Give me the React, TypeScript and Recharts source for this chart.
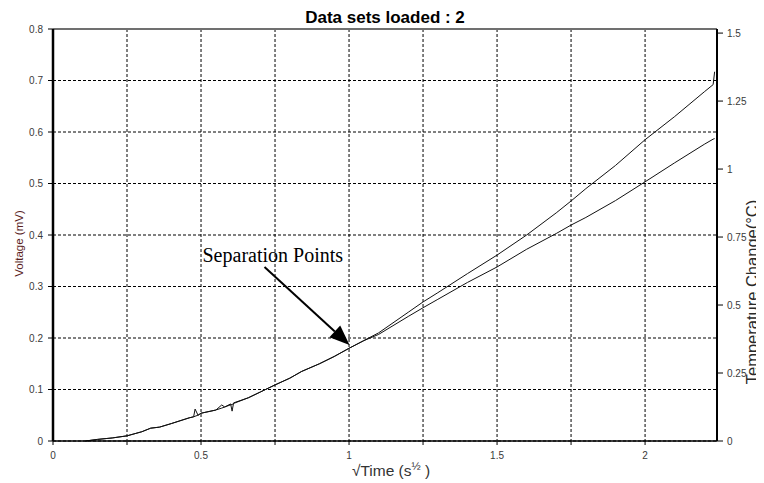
import React from 'react';
import { LineChart, Line, XAxis, YAxis, CartesianGrid, ReferenceLine } from 'recharts';

const timeValues = [0.11, 0.15, 0.2, 0.25, 0.3, 0.33, 0.36, 0.4, 0.46, 0.475, 0.48, 0.49, 0.5, 0.55, 0.57, 0.58, 0.6, 0.605, 0.61, 0.66, 0.7, 0.75, 0.8, 0.84, 0.9, 0.95, 1.0, 1.05, 1.1, 1.2, 1.25, 1.3, 1.4, 1.5, 1.6, 1.7, 1.75, 1.8, 1.9, 2.0, 2.1, 2.2, 2.23, 2.235];
const voltageValues = [0, 0.003, 0.006, 0.01, 0.018, 0.025, 0.027, 0.034, 0.045, 0.047, 0.062, 0.05, 0.054, 0.06, 0.07, 0.066, 0.072, 0.058, 0.074, 0.084, 0.095, 0.109, 0.122, 0.135, 0.15, 0.164, 0.18, 0.195, 0.21, 0.25, 0.27, 0.288, 0.325, 0.361, 0.4, 0.443, 0.466, 0.49, 0.535, 0.585, 0.63, 0.678, 0.692, 0.717];
const temperatureValues = [0, 0.006, 0.011, 0.019, 0.034, 0.047, 0.051, 0.064, 0.085, 0.089, 0.091, 0.095, 0.102, 0.114, 0.121, 0.125, 0.133, 0.134, 0.138, 0.159, 0.18, 0.206, 0.231, 0.256, 0.284, 0.311, 0.341, 0.369, 0.392, 0.458, 0.49, 0.521, 0.583, 0.64, 0.705, 0.763, 0.794, 0.822, 0.884, 0.953, 1.023, 1.091, 1.11, 1.112];

const xTicks = [0, 0.25, 0.5, 0.75, 1, 1.25, 1.5, 1.75, 2];
const leftTicks = [0, 0.1, 0.2, 0.3, 0.4, 0.5, 0.6, 0.7, 0.8];
const rightTicks = [0, 0.25, 0.5, 0.75, 1, 1.25, 1.5];

const titleText = 'Data sets loaded : 2';
const annotationText = 'Separation Points';
const arrowTail = { x: 0.7145, y: 0.338 };
const arrowTip = { x: 1.0017, y: 0.1864 };

const data = timeValues.map((t, i) => ({ t, voltage: voltageValues[i], temperature: temperatureValues[i] }));

const SANS = '"Liberation Sans", Arial, sans-serif';
const tickStyle = { fontSize: 10, fill: '#3a3a3a', fontFamily: SANS };

const ArrowShape = (props: any) => {
  const { x1, y1, x2, y2 } = props;
  if ([x1, y1, x2, y2].some((v) => typeof v !== 'number' || isNaN(v))) return null;
  const dx = x2 - x1;
  const dy = y2 - y1;
  const len = Math.sqrt(dx * dx + dy * dy);
  const ux = dx / len;
  const uy = dy / len;
  const headLen = 20;
  const headHalf = 8;
  const bx = x2 - ux * headLen;
  const by = y2 - uy * headLen;
  const pts = `${x2},${y2} ${bx - uy * headHalf},${by + ux * headHalf} ${bx + uy * headHalf},${by - ux * headHalf}`;
  return (
    <g>
      <line x1={x1} y1={y1} x2={bx} y2={by} stroke="#000" strokeWidth={2} />
      <polygon points={pts} fill="#000" />
      <text x={x1 - 62} y={y1 - 5} fontFamily='"Liberation Serif", "Times New Roman", serif' fontSize={20} fill="#000">
        {annotationText}
      </text>
    </g>
  );
};

const TopLine = (props: any) => {
  const { x1, y1, x2, y2 } = props;
  return (
    <g>
      <line x1={x1} y1={y1} x2={x2} y2={y2} stroke="#707070" strokeWidth={2} />
      <text x={(x1 + x2) / 2} y={y1 - 6} textAnchor="middle" fontFamily={SANS} fontWeight="bold" fontSize={17} fill="#000">
        {titleText}
      </text>
    </g>
  );
};

const XLabel = (props: any) => {
  const vb = props.viewBox || { x: 45, y: 433, width: 664, height: 37 };
  return (
    <text x={vb.x + vb.width / 2 + 6} y={vb.y + 35} textAnchor="middle" fontFamily={SANS} fontSize={15.5} fill="#333">
      √Time (s
      <tspan fontSize={11} dy={-6}>½</tspan>
      <tspan dy={6}> )</tspan>
    </text>
  );
};

const LeftLabel = () => {
  const cx = 14.5;
  const cy = 235.5;
  return (
    <text x={cx} y={cy} transform={`rotate(-90, ${cx}, ${cy})`} textAnchor="middle" fontFamily={SANS} fontSize={11.5} fill="#5a1e1e">
      Voltage (mV)
    </text>
  );
};

const RightLabel = () => {
  const cx = 750;
  const cy = 284;
  return (
    <text x={cx} y={cy} transform={`rotate(-90, ${cx}, ${cy})`} textAnchor="middle" fontFamily={SANS} fontSize={16.5} fill="#2a2a2a">
      Temperature Change(°C)
    </text>
  );
};

export default function App() {
  return (
    <LineChart width={756} height={475} data={data} margin={{ top: 21, right: 0, bottom: 5, left: 0 }}>
      <CartesianGrid yAxisId="left" stroke="#000" strokeDasharray="3 2" strokeWidth={1} />
      <XAxis
        dataKey="t"
        type="number"
        domain={[0, 2.243]}
        allowDataOverflow
        ticks={xTicks}
        tickFormatter={(v: number) => ((v * 2) % 1 === 0 ? String(v) : '')}
        tick={tickStyle}
        tickSize={4}
        tickMargin={7}
        height={37}
        axisLine={{ stroke: '#000', strokeWidth: 1.5 }}
        tickLine={{ stroke: '#000' }}
        label={<XLabel />}
      />
      <YAxis
        yAxisId="left"
        domain={[0, 0.8]}
        ticks={leftTicks}
        tick={tickStyle}
        tickSize={5}
        tickMargin={5}
        width={45}
        axisLine={{ stroke: '#000', strokeWidth: 2.5 }}
        tickLine={{ stroke: '#000' }}
        label={<LeftLabel />}
      />
      <YAxis
        yAxisId="right"
        orientation="right"
        domain={[0, 1.515]}
        ticks={rightTicks}
        tick={tickStyle}
        tickSize={6}
        tickMargin={4}
        width={47}
        axisLine={{ stroke: '#000', strokeWidth: 2 }}
        tickLine={{ stroke: '#000' }}
        label={<RightLabel />}
      />
      <ReferenceLine yAxisId="left" y={0.8} shape={<TopLine />} />
      <Line yAxisId="left" type="linear" dataKey="voltage" stroke="#111" strokeWidth={1} dot={false} isAnimationActive={false} />
      <Line yAxisId="right" type="linear" dataKey="temperature" stroke="#111" strokeWidth={1} dot={false} isAnimationActive={false} />
      <ReferenceLine
        yAxisId="left"
        segment={[arrowTail, arrowTip]}
        shape={<ArrowShape />}
      />
    </LineChart>
  );
}
